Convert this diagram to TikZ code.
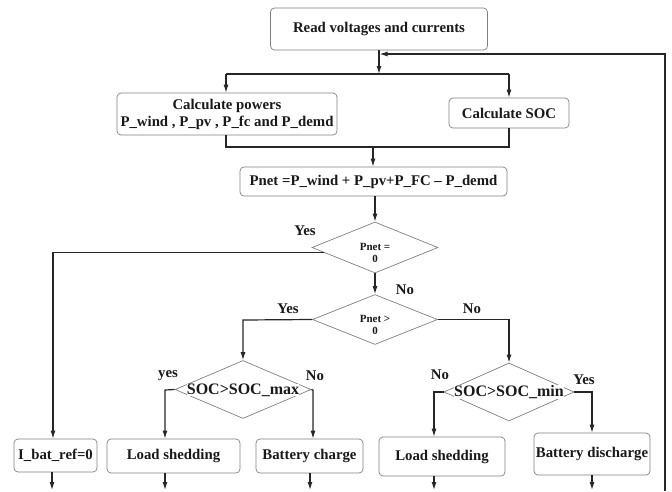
\documentclass[tikz,border=0pt]{standalone}
\usepackage{fontspec}
\setmainfont{Liberation Serif}
\usetikzlibrary{shapes.geometric,arrows.meta,calc}
\begin{document}
\begin{tikzpicture}[x=1pt,y=-1pt,
  box/.style={draw=black!50, line width=0.7pt, rounded corners=4pt, fill=white,
    inner sep=0pt, align=center, text=black!90,
    font=\bfseries\fontsize{14.8}{17}\selectfont},
  dia/.style={draw=black!50, line width=0.7pt, diamond, inner sep=0pt},
  dtext/.style={inner sep=0pt, align=center, text=black!90,
    font=\bfseries\fontsize{11}{12}\selectfont},
  dbig/.style={inner sep=0pt, fill=white, text=black!90,
    font=\bfseries\fontsize{16}{18}\selectfont},
  lab/.style={inner sep=0pt, text=black!90,
    font=\bfseries\fontsize{14.8}{17}\selectfont},
  conn/.style={draw=black!85, line width=1.2pt},
  arr/.style={conn, -{Latex[length=8pt,width=5pt]}}
]
\useasboundingbox (0,0) rectangle (672,491);

% boxes
\node[box, minimum width=217pt, minimum height=42pt] (read) at (379,29) {Read voltages and currents};
\node[box, minimum width=220pt, minimum height=42pt] (cp) at (227,114) {Calculate powers\\P\_wind , P\_pv , P\_fc and P\_demd};
\node[box, minimum width=120pt, minimum height=30pt] (soc) at (509,113) {Calculate SOC};
\node[box, minimum width=267pt, minimum height=29pt] (pnet) at (373.5,181.5) {Pnet =P\_wind + P\_pv+P\_FC -- P\_demd};

% diamonds
\node[dia, minimum width=126pt, minimum height=51pt] (d1) at (375,247.5) {};
\node[dtext] (t1) at (375,252.5) {Pnet =\\0};
\node[dia, minimum width=125pt, minimum height=50pt] (d2) at (375,319.5) {};
\node[dtext] (t2) at (375,324.5) {Pnet >\\0};
\node[dia, minimum width=136pt, minimum height=58pt] (d3) at (243,389.5) {};
\node[dbig] (t3) at (243,390) {SOC>SOC\_max};
\node[dia, minimum width=130pt, minimum height=58pt] (d4) at (509,392) {};
\node[dbig] (t4) at (509,392) {SOC>SOC\_min};

% bottom boxes
\node[box, minimum width=83pt, minimum height=33pt] (ib) at (55.5,455.5) {I\_bat\_ref=0};
\node[box, minimum width=133pt, minimum height=34pt] (ls1) at (173.5,456) {Load shedding};
\node[box, minimum width=107pt, minimum height=34pt] (bc) at (309.5,456) {Battery charge};
\node[box, minimum width=126pt, minimum height=39pt] (ls2) at (442,456.5) {Load shedding};
\node[box, minimum width=116pt, minimum height=42pt] (bd) at (592,454) {Battery discharge};

% labels
\node[lab] (l1) at (305,231) {Yes};
\node[lab] (l2) at (405,290) {No};
\node[lab] (l3) at (288,309) {Yes};
\node[lab] (l4) at (472,309) {No};
\node[lab] (l5) at (168,376) {yes};
\node[lab] (l6) at (315,376) {No};
\node[lab] (l7) at (440,375) {No};
\node[lab] (l8) at (584,380) {Yes};

% coordinates
\coordinate (j1) at (379,74);
\coordinate (jl) at (226,74);
\coordinate (jr) at (509,74);
\coordinate (k1) at (226,147);
\coordinate (k2) at (509,147);
\coordinate (km) at (373,147);
\coordinate (lt) at (665,54);
\coordinate (lb) at (665,491);
\coordinate (lj) at (379.5,54);
\coordinate (c1) at (53,253);
\coordinate (c2) at (243,320);
\coordinate (c3) at (509,319.5);
\coordinate (c4) at (165,390);
\coordinate (c5) at (313,390);
\coordinate (c6) at (434,392);
\coordinate (c7) at (592,392);
\coordinate (e1) at (52,490);
\coordinate (e2) at (165,490);
\coordinate (e3) at (310,490);
\coordinate (e4) at (434,490);
\coordinate (e5) at (592,490);

% connectors
\draw[arr] (read.south) -- (j1);
\draw[conn] (jl) -- (jr);
\draw[arr] (jl) -- (cp.north -| jl);
\draw[arr] (jr) -- (soc.north -| jr);
\draw[arr] (lb) -- (lt) -- (lj);
\draw[conn] (cp.south -| k1) -- (k1) -- (k2) -- (soc.south -| k2);
\draw[arr] (km) -- (pnet.north -| km);
\draw[arr] (pnet.south -| d1.north) -- (d1.north);
\draw[arr] ($(d1.west)!0.2!(d1.south)$) -- (c1 |- {$(d1.west)!0.2!(d1.south)$}) -- (ib.north -| c1);
\draw[arr] (d1.south) -- (d2.north);
\draw[arr] (d2.west) -- (c2) -- (d3.north);
\draw[arr] (d2.east) -- (c3) -- (d4.north);
\draw[arr] (d3.west) -- (c4) -- (ls1.north -| c4);
\draw[arr] (d3.east) -- (c5) -- (bc.north -| c5);
\draw[arr] (d4.west) -- (c6) -- (ls2.north -| c6);
\draw[arr] (d4.east) -- (c7) -- (bd.north -| c7);
\draw[arr] (ib.south -| e1) -- (e1);
\draw[arr] (ls1.south -| e2) -- (e2);
\draw[arr] (bc.south -| e3) -- (e3);
\draw[arr] (ls2.south -| e4) -- (e4);
\draw[arr] (bd.south -| e5) -- (e5);
\end{tikzpicture}
\end{document}
